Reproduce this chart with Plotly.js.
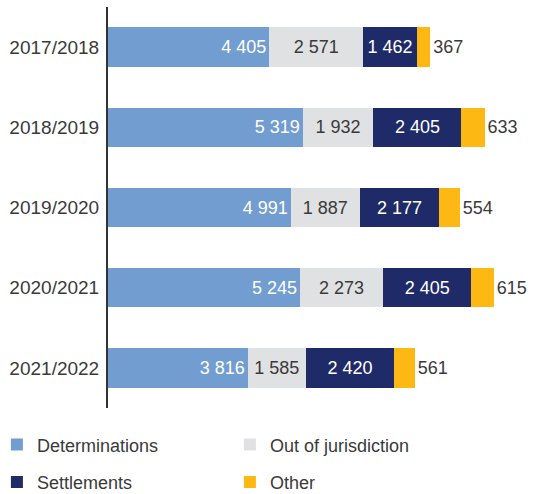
<!DOCTYPE html>
<html>
<head>
<meta charset="utf-8">
<script src="https://cdn.plot.ly/plotly-3.0.1.min.js"></script>
<style>html,body{margin:0;padding:0;background:#fff;}#chart{width:533px;height:494px;}</style>
</head>
<body>
<div id="chart"></div>
<script>
const years = ["2017/2018", "2018/2019", "2019/2020", "2020/2021", "2021/2022"];
const determinations = [4405, 5319, 4991, 5245, 3816];
const outOfJurisdiction = [2571, 1932, 1887, 2273, 1585];
const settlements = [1462, 2405, 2177, 2405, 2420];
const other = [367, 633, 554, 615, 561];

const seriesNames = ["Determinations", "Out of jurisdiction", "Settlements", "Other"];
const seriesColors = ["#729dd1", "#e0e1e3", "#1f2b68", "#fdb813"];
const labelColors = ["#ffffff", "#3a3a3a", "#ffffff", "#3a3a3a"];
const anchors = ["end", "middle", "middle", "start"];
const positions = ["inside", "inside", "inside", "outside"];
const legends = ["legend", "legend", "legend2", "legend2"];

const fmt = v => String(v).replace(/\B(?=(\d{3})+(?!\d))/g, " ");
const FONT = "Liberation Sans, Arial, sans-serif";

const data = [determinations, outOfJurisdiction, settlements, other].map((vals, i) => ({
  type: "bar",
  orientation: "h",
  name: seriesNames[i],
  y: years,
  x: vals,
  width: 0.49,
  marker: {color: seriesColors[i], line: {width: 0}},
  text: vals.map(fmt),
  textposition: positions[i],
  insidetextanchor: anchors[i],
  textangle: 0,
  constraintext: "none",
  cliponaxis: false,
  textfont: {family: FONT, size: 18, color: labelColors[i]},
  legend: legends[i],
  hoverinfo: "skip"
}));

const legendBase = {
  orientation: "h",
  traceorder: "normal",
  xref: "paper", yref: "paper",
  x: -0.2645, xanchor: "left", yanchor: "middle",
  entrywidth: 188,
  font: {family: FONT, size: 18, color: "#3a3a3a"},
  bgcolor: "rgba(0,0,0,0)"
};

const layout = {
  width: 533,
  height: 494,
  margin: {l: 108, r: 5, t: 7, b: 86, autoexpand: false},
  paper_bgcolor: "#ffffff",
  plot_bgcolor: "#ffffff",
  barmode: "stack",
  font: {family: FONT, size: 18, color: "#3a3a3a"},
  xaxis: {
    range: [0, 11475],
    showgrid: false,
    zeroline: false,
    showline: false,
    showticklabels: false,
    ticks: ""
  },
  yaxis: {
    type: "category",
    categoryorder: "array",
    categoryarray: years,
    autorange: "reversed",
    showgrid: false,
    zeroline: false,
    showline: true,
    linecolor: "#333333",
    linewidth: 2,
    ticks: "",
    ticklabelstandoff: 3,
    tickfont: {family: FONT, size: 19, color: "#3a3a3a"}
  },
  legend: Object.assign({}, legendBase, {y: -0.092}),
  legend2: Object.assign({}, legendBase, {y: -0.185}),
  showlegend: true
};

Plotly.newPlot("chart", data, layout, {displayModeBar: false, staticPlot: true});
</script>
</body>
</html>
